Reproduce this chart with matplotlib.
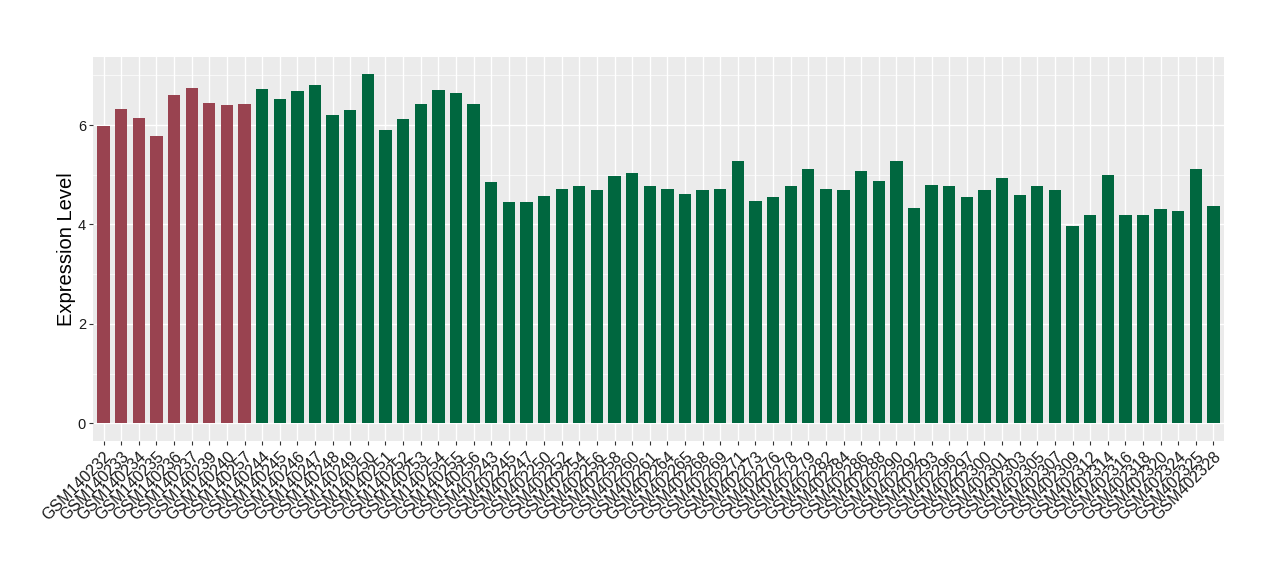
import numpy as np
import matplotlib.pyplot as plt
from matplotlib.ticker import MultipleLocator

plt.rcParams['font.family'] = ['Liberation Sans', 'DejaVu Sans']

# --- Data ---
red_samples = ['GSM140232', 'GSM140233', 'GSM140234', 'GSM140235', 'GSM140236',
               'GSM140237', 'GSM140239', 'GSM140240', 'GSM140257']
red_values = [5.98, 6.33, 6.15, 5.78, 6.6, 6.75, 6.45, 6.4, 6.42]

green_samples = ['GSM140244', 'GSM140245', 'GSM140246', 'GSM140247', 'GSM140248',
                 'GSM140249', 'GSM140250', 'GSM140251', 'GSM140252', 'GSM140253',
                 'GSM140254', 'GSM140255', 'GSM140256',
                 'GSM402243', 'GSM402245', 'GSM402247', 'GSM402250', 'GSM402252',
                 'GSM402254', 'GSM402256', 'GSM402258', 'GSM402260', 'GSM402261',
                 'GSM402264', 'GSM402265', 'GSM402268', 'GSM402269', 'GSM402271',
                 'GSM402273', 'GSM402276', 'GSM402278', 'GSM402279', 'GSM402282',
                 'GSM402284', 'GSM402286', 'GSM402288', 'GSM402290', 'GSM402292',
                 'GSM402293', 'GSM402296', 'GSM402297', 'GSM402300', 'GSM402301',
                 'GSM402303', 'GSM402305', 'GSM402307', 'GSM402309', 'GSM402312',
                 'GSM402314', 'GSM402316', 'GSM402318', 'GSM402320', 'GSM402324',
                 'GSM402325', 'GSM402328']
green_values = [6.73, 6.52, 6.68, 6.8, 6.2, 6.3, 7.02, 5.9, 6.12, 6.42,
                6.7, 6.65, 6.42,
                4.85, 4.45, 4.45, 4.58, 4.72, 4.77, 4.7, 4.97, 5.03, 4.78,
                4.72, 4.62, 4.7, 4.72, 5.27, 4.48, 4.55, 4.78, 5.12, 4.72,
                4.7, 5.07, 4.87, 5.28, 4.33, 4.8, 4.77, 4.55, 4.7, 4.93,
                4.6, 4.78, 4.7, 3.97, 4.2, 5.0, 4.2, 4.2, 4.32, 4.28,
                5.12, 4.37]

RED = '#994350'
GREEN = '#00673F'

samples = red_samples + green_samples
values = red_values + green_values
colors = [RED] * len(red_samples) + [GREEN] * len(green_samples)

fig = plt.figure(figsize=(12.8, 5.8), dpi=100)
ax = fig.add_axes([0.0727, 0.24, 0.8836, 0.662])
ax.set_facecolor('#EBEBEB')

x = np.arange(len(samples))
ax.bar(x, values, width=0.7, color=colors, zorder=3)

ax.set_xlim(-0.6, len(samples) - 0.4)
ymax = max(values)
ax.set_ylim(-0.05 * ymax, 1.05 * ymax)

ax.set_xticks(x)
ax.set_xticklabels(samples, rotation=45, ha='right', rotation_mode='anchor',
                   fontsize=11.5, color='#1A1A1A')
ax.yaxis.set_major_locator(MultipleLocator(2))
ax.yaxis.set_minor_locator(MultipleLocator(1))
ax.tick_params(axis='y', labelsize=10.5, labelcolor='#1A1A1A', color='#333333',
               length=3, pad=2)
ax.tick_params(axis='x', color='#333333', length=3, pad=3)
ax.tick_params(axis='y', which='minor', length=0)

ax.grid(which='major', color='white', linewidth=1.0, zorder=0)
ax.grid(which='minor', axis='y', color='white', linewidth=0.5, zorder=0)
ax.set_axisbelow(True)
for s in ax.spines.values():
    s.set_visible(False)

ax.set_ylabel('Expression Level', fontsize=14.5)
ax.yaxis.set_label_coords(-0.0155, 0.5)

fig.savefig('out.png', dpi=100)
